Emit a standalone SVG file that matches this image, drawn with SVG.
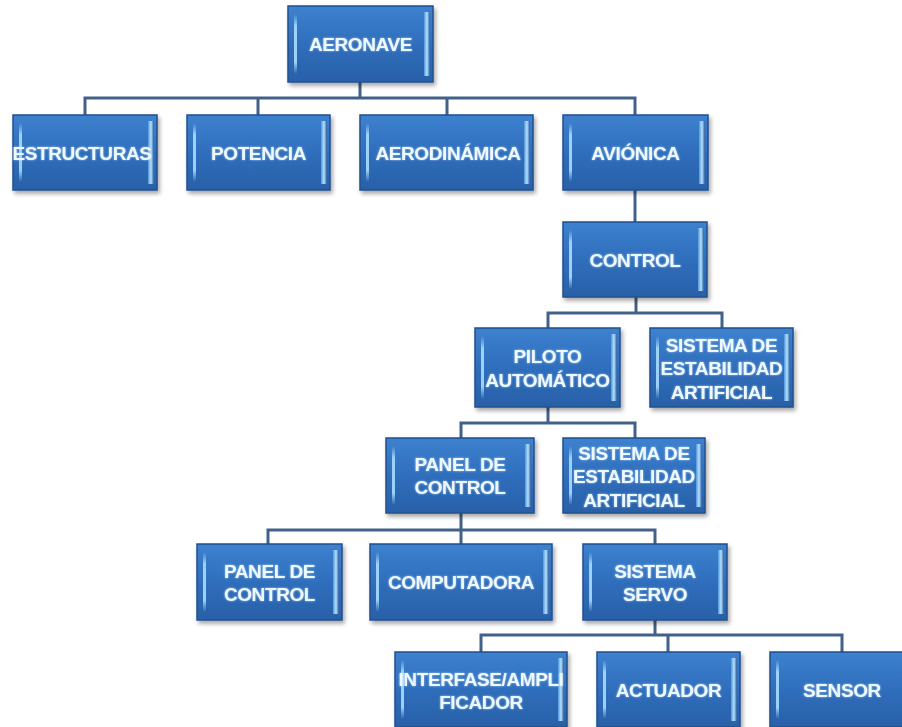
<svg xmlns="http://www.w3.org/2000/svg" width="902" height="727" viewBox="0 0 902 727">
<defs>
<linearGradient id="fillG" x1="0" y1="0" x2="0" y2="1">
<stop offset="0" stop-color="#3d81cf"/>
<stop offset="0.5" stop-color="#2f6ebc"/>
<stop offset="1" stop-color="#2960a8"/>
</linearGradient>
<linearGradient id="hiL" x1="0" y1="0" x2="0" y2="1">
<stop offset="0" stop-color="#a8dcff" stop-opacity="0"/>
<stop offset="0.2" stop-color="#a8dcff" stop-opacity="0.9"/>
<stop offset="0.8" stop-color="#a8dcff" stop-opacity="0.9"/>
<stop offset="1" stop-color="#a8dcff" stop-opacity="0"/>
</linearGradient>
<linearGradient id="hiR" x1="0" y1="0" x2="1" y2="0">
<stop offset="0" stop-color="#4f95dc"/>
<stop offset="0.5" stop-color="#b5e2ff"/>
<stop offset="1" stop-color="#2a5a9a"/>
</linearGradient>
<filter id="sh" x="-10%" y="-10%" width="125%" height="130%">
<feDropShadow dx="2" dy="3" stdDeviation="2" flood-color="#000" flood-opacity="0.35"/>
</filter>
<filter id="glow" x="-10%" y="-30%" width="120%" height="160%">
<feGaussianBlur in="SourceAlpha" stdDeviation="1.2" result="b"/>
<feFlood flood-color="#cfeaff" flood-opacity="0.7"/>
<feComposite in2="b" operator="in" result="g"/>
<feMerge><feMergeNode in="g"/><feMergeNode in="SourceGraphic"/></feMerge>
</filter>
</defs>
<style>
.box{fill:url(#fillG);stroke:#22508e;stroke-width:1.5;filter:url(#sh)}
.hl{fill:url(#hiL)}
.hr{fill:url(#hiR)}
.t{font-family:"Liberation Sans",Arial,sans-serif;font-weight:bold;font-size:19px;letter-spacing:-0.4px;fill:#eef8ff;text-anchor:middle;filter:url(#glow)}
.c{fill:none;stroke:#41618a;stroke-width:3}
</style>
<g id="connectors">
<path class="c" d="M360 82V98M85 115V98H635V115M258 98V115M447 98V115"/>
<path class="c" d="M635 190V222"/>
<path class="c" d="M636 297V313M548 328V313H722V328"/>
<path class="c" d="M548 407V423M461 438V423H635V438"/>
<path class="c" d="M461 513V544M268 544V530H655V544"/>
<path class="c" d="M655 620V635M481 652V635H842V652M668 635V652"/>
</g>
<g id="aeronave">
<rect class="box" x="288" y="6" width="145" height="76"/>
<rect class="hl" x="294" y="14" width="3" height="60"/>
<rect class="hr" x="424" y="12" width="6" height="64"/>
<text class="t" x="360.5" y="51">AERONAVE</text>
</g>
<g id="estructuras">
<rect class="box" x="13" y="115" width="144" height="75"/>
<rect class="hl" x="19" y="123" width="3" height="59"/>
<rect class="hr" x="148" y="121" width="6" height="63"/>
<text class="t" x="82" y="160">ESTRUCTURAS</text>
</g>
<g id="potencia">
<rect class="box" x="187" y="115" width="143" height="75"/>
<rect class="hl" x="193" y="123" width="3" height="59"/>
<rect class="hr" x="321" y="121" width="6" height="63"/>
<text class="t" x="258.5" y="160">POTENCIA</text>
</g>
<g id="aerodinamica">
<rect class="box" x="360" y="115" width="173" height="75"/>
<rect class="hl" x="366" y="123" width="3" height="59"/>
<rect class="hr" x="524" y="121" width="6" height="63"/>
<text class="t" x="448" y="160">AERODINÁMICA</text>
</g>
<g id="avionica">
<rect class="box" x="563" y="115" width="145" height="75"/>
<rect class="hl" x="569" y="123" width="3" height="59"/>
<rect class="hr" x="699" y="121" width="6" height="63"/>
<text class="t" x="635.5" y="160">AVIÓNICA</text>
</g>
<g id="control">
<rect class="box" x="563" y="222" width="144" height="75"/>
<rect class="hl" x="569" y="230" width="3" height="59"/>
<rect class="hr" x="698" y="228" width="6" height="63"/>
<text class="t" x="635" y="267">CONTROL</text>
</g>
<g id="piloto">
<rect class="box" x="475" y="328" width="145" height="79"/>
<rect class="hl" x="481" y="336" width="3" height="63"/>
<rect class="hr" x="611" y="334" width="6" height="67"/>
<text class="t" x="547.5" y="363">PILOTO</text>
<text class="t" x="547.5" y="387">AUTOMÁTICO</text>
</g>
<g id="estabilidad1">
<rect class="box" x="650" y="328" width="143" height="79"/>
<rect class="hl" x="656" y="336" width="3" height="63"/>
<rect class="hr" x="784" y="334" width="6" height="67"/>
<text class="t" x="721.5" y="352">SISTEMA DE</text>
<text class="t" x="721.5" y="375">ESTABILIDAD</text>
<text class="t" x="721.5" y="399">ARTIFICIAL</text>
</g>
<g id="panel1">
<rect class="box" x="386" y="438" width="148" height="75"/>
<rect class="hl" x="392" y="446" width="3" height="59"/>
<rect class="hr" x="525" y="444" width="6" height="63"/>
<text class="t" x="460" y="471">PANEL DE</text>
<text class="t" x="460" y="494">CONTROL</text>
</g>
<g id="estabilidad2">
<rect class="box" x="563" y="438" width="142" height="75"/>
<rect class="hl" x="569" y="446" width="3" height="59"/>
<rect class="hr" x="696" y="444" width="6" height="63"/>
<text class="t" x="634" y="460">SISTEMA DE</text>
<text class="t" x="634" y="483">ESTABILIDAD</text>
<text class="t" x="634" y="507">ARTIFICIAL</text>
</g>
<g id="panel2">
<rect class="box" x="197" y="544" width="145" height="76"/>
<rect class="hl" x="203" y="552" width="3" height="60"/>
<rect class="hr" x="333" y="550" width="6" height="64"/>
<text class="t" x="269.5" y="578">PANEL DE</text>
<text class="t" x="269.5" y="601">CONTROL</text>
</g>
<g id="computadora">
<rect class="box" x="370" y="544" width="182" height="76"/>
<rect class="hl" x="376" y="552" width="3" height="60"/>
<rect class="hr" x="543" y="550" width="6" height="64"/>
<text class="t" x="461" y="589">COMPUTADORA</text>
</g>
<g id="servo">
<rect class="box" x="583" y="544" width="144" height="76"/>
<rect class="hl" x="589" y="552" width="3" height="60"/>
<rect class="hr" x="718" y="550" width="6" height="64"/>
<text class="t" x="655" y="578">SISTEMA</text>
<text class="t" x="655" y="601">SERVO</text>
</g>
<g id="interfase">
<rect class="box" x="395" y="652" width="172" height="75"/>
<rect class="hl" x="401" y="660" width="3" height="59"/>
<rect class="hr" x="558" y="658" width="6" height="63"/>
<text class="t" x="481" y="686">INTERFASE/AMPLI</text>
<text class="t" x="481" y="709">FICADOR</text>
</g>
<g id="actuador">
<rect class="box" x="597" y="652" width="143" height="75"/>
<rect class="hl" x="603" y="660" width="3" height="59"/>
<rect class="hr" x="731" y="658" width="6" height="63"/>
<text class="t" x="668.5" y="697">ACTUADOR</text>
</g>
<g id="sensor">
<rect class="box" x="770" y="652" width="144" height="75"/>
<rect class="hl" x="776" y="660" width="3" height="59"/>
<text class="t" x="842" y="697">SENSOR</text>
</g>
</svg>
